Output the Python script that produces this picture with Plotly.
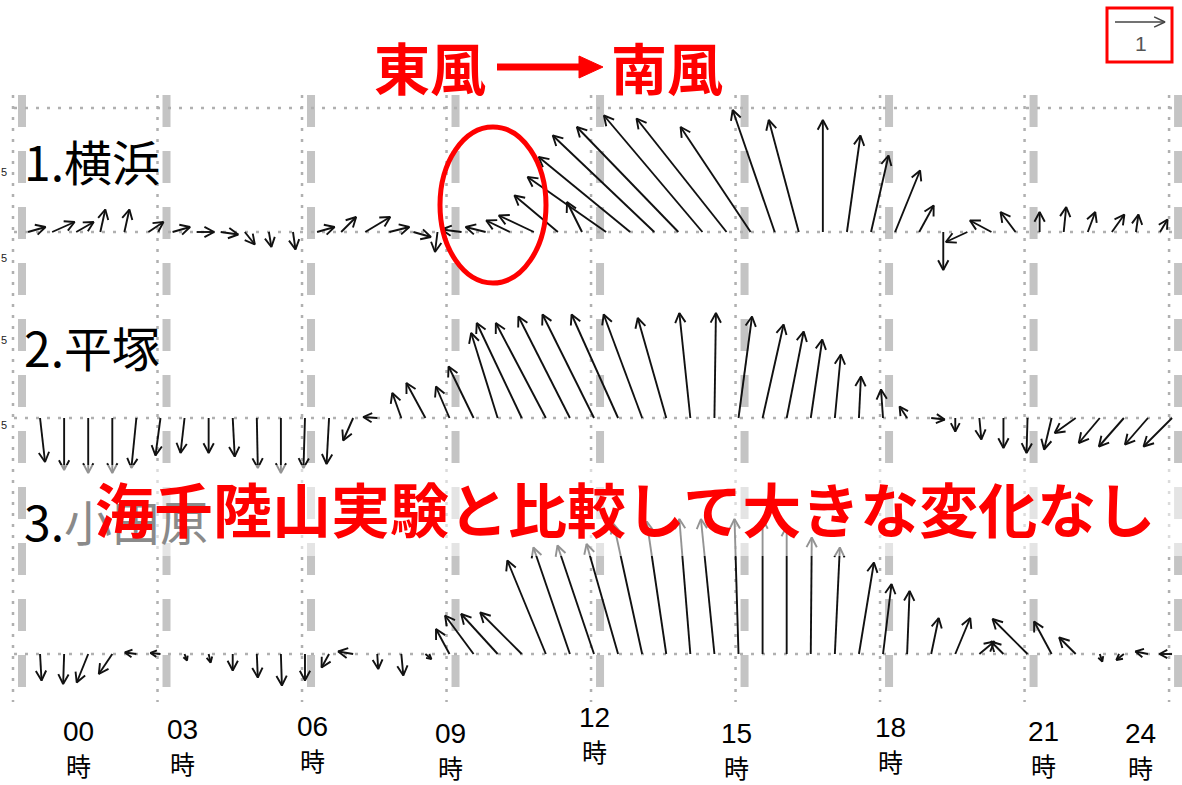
import math
import plotly.graph_objects as go

# ---------------- data ----------------
# half-hourly wind vectors (u: east-west, v: north-south), m/s-like units
HOURS = [0.25, 0.75, 1.25, 1.75, 2.25, 2.75, 3.25, 3.75, 4.25, 4.75, 5.25, 5.75,
         6.25, 6.75, 7.25, 7.75, 8.25, 8.75, 9.25, 9.75, 10.25, 10.75, 11.25, 11.75,
         12.25, 12.75, 13.25, 13.75, 14.25, 14.75, 15.25, 15.75, 16.25, 16.75, 17.25, 17.75,
         18.25, 18.75, 19.25, 19.75, 20.25, 20.75, 21.25, 21.75, 22.25, 22.75, 23.25, 23.75]

YOKOHAMA_U = [0.35, 0.45, 0.35, 0.10, 0.10, 0.30, 0.35, 0.35, 0.35, 0.20, 0.05, 0.05,
              0.35, 0.30, 0.50, 0.40, 0.35, -0.05, -0.40, -0.40, -0.47, -0.70, -0.87, -0.30,
              -1.57, -1.83, -2.03, -2.03, -1.97, -1.80, -1.40, -0.84, -0.60, 0.00, 0.27, 0.35,
              0.50, 0.29, 0.00, -0.43, -0.43, -0.30, 0.00, 0.05, 0.15, 0.25, 0.05, 0.15]
YOKOHAMA_V = [0.10, 0.20, 0.20, 0.45, 0.45, 0.20, 0.10, 0.00, -0.05, -0.25, -0.30, -0.35,
              0.10, 0.30, 0.30, 0.10, -0.10, -0.40, 0.05, 0.10, 0.23, 0.33, 0.73, 0.60,
              1.10, 1.50, 1.93, 2.10, 2.33, 2.27, 2.10, 2.44, 2.24, 2.24, 1.93, 1.53,
              1.23, 0.53, -0.76, -0.20, 0.23, 0.40, 0.40, 0.50, 0.40, 0.35, 0.35, 0.25]

HIRATSUKA_U = [0.10, 0.00, 0.00, 0.00, -0.10, -0.10, -0.08, 0.00, 0.04, 0.02, 0.00, -0.03,
               -0.05, -0.20, -0.28, -0.18, -0.38, -0.27, -0.50, -0.53, -0.90, -1.00, -1.03, -1.03,
               -0.93, -0.77, -0.57, -0.22, 0.03, 0.27, 0.42, 0.34, 0.23, 0.12, 0.04, -0.04,
               -0.15, 0.27, 0.00, 0.04, 0.00, -0.02, -0.15, -0.42, -0.42, -0.50, -0.46, -0.57]
HIRATSUKA_V = [-0.88, -1.04, -1.10, -1.10, -1.00, -0.75, -0.70, -0.70, -0.77, -1.00, -1.10, -1.00,
               -0.92, -0.45, 0.02, 0.50, 0.70, 0.63, 1.03, 1.70, 1.90, 1.90, 2.03, 2.07,
               2.07, 2.07, 2.00, 2.10, 2.10, 2.03, 1.87, 1.73, 1.57, 1.27, 0.83, 0.57,
               0.23, -0.03, -0.27, -0.43, -0.60, -0.70, -0.63, -0.30, -0.50, -0.57, -0.53, -0.57]

ODAWARA_U = [0.03, -0.02, -0.23, -0.27, -0.23, -0.20, 0.05, 0.04, 0.00, 0.02, 0.02, 0.00,
             -0.15, -0.30, 0.02, 0.04, 0.12, -0.27, -0.57, -0.73, -0.83, -0.77, -0.73, -0.73,
             -0.63, -0.57, -0.39, -0.22, -0.27, -0.08, 0.00, 0.00, 0.02, 0.10, 0.30, 0.17,
             0.05, 0.15, 0.30, 0.30, -0.25, -0.70, -0.35, -0.33, 0.05, -0.15, -0.25, -0.25]
ODAWARA_V = [-0.53, -0.60, -0.57, -0.40, 0.03, 0.02, -0.13, -0.17, -0.33, -0.47, -0.63, -0.53,
             -0.27, 0.05, -0.30, -0.43, -0.10, 0.50, 0.77, 0.80, 0.83, 1.87, 2.13, 2.17,
             2.20, 2.60, 2.65, 2.70, 2.70, 2.70, 2.70, 2.55, 2.33, 2.13, 1.83, 1.40,
             1.26, 0.72, 0.72, 0.25, 0.25, 0.70, 0.65, 0.33, -0.15, -0.12, 0.05, 0.00]

STATIONS = ["1.横浜", "2.平塚", "3.小田原"]
GRID_HOURS = [0, 3, 6, 9, 12, 15, 18, 21, 24]
HOUR_LABELS = ["00", "03", "06", "09", "12", "15", "18", "21", "24"]
LEGEND_SPEED = 1
TITLE_FROM, TITLE_TO = "東風", "南風"
MESSAGE = "海千陸山実験と比較して大きな変化なし"

# ---------------- layout geometry ----------------
W, H = 1182, 785
PXH = 48.17      # pixels per hour
X0 = 16          # pixel of hour 0
PXU = 50         # pixels per unit of wind


def hx(px):
    return (px - X0) / PXH


def uy(py):
    return (H - py) / PXU


def py_paper(py):
    return 1 - py / H


def quiver(times, U, V, base_py, shift_px=0, color="#111", width=1.9, head_px=11, head_deg=28):
    xs, ys = [], []
    y0 = uy(base_py)
    for t, u, v in zip(times, U, V):
        x0 = t + shift_px / PXH
        x1 = x0 + u * PXU / PXH
        y1 = y0 + v
        xs += [x0, x1, None]
        ys += [y0, y1, None]
        L = math.hypot(u, v) * PXU
        if L < 0.5:
            continue
        ang = math.atan2(v, u)
        hl = min(head_px, 0.7 * L)
        bx, by = [], []
        for s in (1, -1):
            a = ang + math.pi + s * math.radians(head_deg)
            bx.append(x1 + hl * math.cos(a) / PXH)
            by.append(y1 + hl * math.sin(a) / PXU)
        xs += [bx[0], x1, bx[1], None]
        ys += [by[0], y1, by[1], None]
    return go.Scatter(x=xs, y=ys, mode="lines", line=dict(color=color, width=width),
                      hoverinfo="skip", showlegend=False)


BASES = [232, 418, 654]
SHIFTS = [0, 12, 12]
DATA = [(YOKOHAMA_U, YOKOHAMA_V), (HIRATSUKA_U, HIRATSUKA_V), (ODAWARA_U, ODAWARA_V)]

fig = go.Figure()
shapes = []

# thick light-gray dashed vertical bars
for g in GRID_HOURS:
    xg = g + 6 / PXH
    shapes.append(dict(type="line", xref="x", yref="y", x0=xg, x1=xg, y0=uy(95), y1=uy(702),
                       line=dict(color="#c4c4c4", width=8, dash="32px,24px"), layer="below"))
# thin dotted vertical grid lines
for g in GRID_HOURS:
    xg = g - 3 / PXH
    shapes.append(dict(type="line", xref="x", yref="y", x0=xg, x1=xg, y0=uy(95), y1=uy(702),
                       line=dict(color="#b0b0b0", width=2.5, dash="3px,8px"), layer="below"))
# dotted horizontal lines (top frame of panel 1 + baselines)
for py in [108] + BASES:
    shapes.append(dict(type="line", xref="x", yref="y", x0=hx(14), x1=hx(1172), y0=uy(py), y1=uy(py),
                       line=dict(color="#b0b0b0", width=2.5, dash="3px,8px"), layer="below"))

for (U, V), b, s in zip(DATA, BASES, SHIFTS):
    fig.add_trace(quiver(HOURS, U, V, b, shift_px=s))

# legend arrow (scale = 1)
fig.add_trace(quiver([hx(1115)], [LEGEND_SPEED], [0], 22, color="#444", width=1.4, head_px=12, head_deg=25))

# translucent white band behind the red message
shapes.append(dict(type="rect", xref="x", yref="y", x0=hx(58), x1=hx(1182), y0=uy(556), y1=uy(465),
                   fillcolor="rgba(255,255,255,0.55)", line=dict(width=0), layer="above"))
# red ellipse
shapes.append(dict(type="circle", xref="x", yref="y", x0=hx(440), x1=hx(546), y0=uy(283), y1=uy(127),
                   line=dict(color="#FF0000", width=5), layer="above"))
# legend box
shapes.append(dict(type="rect", xref="x", yref="y", x0=hx(1107), x1=hx(1172), y0=uy(62), y1=uy(8),
                   line=dict(color="#FF0000", width=3), layer="above"))
# title arrow
shapes.append(dict(type="line", xref="x", yref="y", x0=hx(497), x1=hx(583), y0=uy(67), y1=uy(67),
                   line=dict(color="#FF0000", width=7), layer="above"))
tri = "M {a},{b} L {c},{d} L {a},{e} Z".format(a=hx(579), b=uy(56), c=hx(603), d=uy(67), e=uy(78))
shapes.append(dict(type="path", xref="x", yref="y", path=tri, fillcolor="#FF0000",
                   line=dict(color="#FF0000", width=1), layer="above"))

ann = []
CJK = "Noto Sans CJK JP"
ann.append(dict(x=hx(430), y=py_paper(66), text=TITLE_FROM, font=dict(family=CJK, size=56, color="#FF0000", weight="bold")))
ann.append(dict(x=hx(667), y=py_paper(66), text=TITLE_TO, font=dict(family=CJK, size=56, color="#FF0000", weight="bold")))
ann.append(dict(x=hx(1141), y=py_paper(44), text=str(LEGEND_SPEED), font=dict(family="Liberation Sans", size=21, color="#555")))

for name, py in zip(STATIONS, [160, 346, 520]):
    txt = name
    if name.startswith("3."):
        txt = '3.<span style="color:#8a8a8a">' + name[2:] + "</span>"
    ann.append(dict(x=hx(22), y=py_paper(py), text=txt, xanchor="left",
                    font=dict(family=CJK, size=48, color="#000")))

ann.append(dict(x=hx(625), y=py_paper(507), text=MESSAGE,
                font=dict(family=CJK, size=59, color="#FF0000", weight="bold")))

for py in [172, 258, 340, 425]:
    ann.append(dict(x=hx(4), y=py_paper(py), text="5", font=dict(family="Liberation Sans", size=11, color="#222")))

LABEL_X = [78, 182, 312, 450, 594, 736, 890, 1043, 1140]
LABEL_Y = [731, 729, 726, 733, 717, 733, 727, 731, 733]
for lab, lx, ly in zip(HOUR_LABELS, LABEL_X, LABEL_Y):
    ann.append(dict(x=hx(lx), y=py_paper(ly), text=lab,
                    font=dict(family="Liberation Sans Narrow, Liberation Sans", size=28, color="#000")))
    ann.append(dict(x=hx(lx), y=py_paper(ly + 34), text="時",
                    font=dict(family=CJK, size=25, color="#000")))

for a in ann:
    a["xref"] = "x"
    a["yref"] = "paper"
    a["showarrow"] = False
    a.setdefault("xanchor", "center")
    a["yanchor"] = "middle"

fig.update_layout(
    width=W, height=H,
    margin=dict(l=0, r=0, t=0, b=0),
    paper_bgcolor="white", plot_bgcolor="white",
    xaxis=dict(range=[hx(0), hx(W)], visible=False, fixedrange=True),
    yaxis=dict(range=[uy(H), uy(0)], visible=False, fixedrange=True),
    shapes=shapes, annotations=ann, showlegend=False,
)

fig.write_html("out.html", config={"displayModeBar": False},
               post_script="document.body.style.margin='0';document.body.style.padding='0';")
